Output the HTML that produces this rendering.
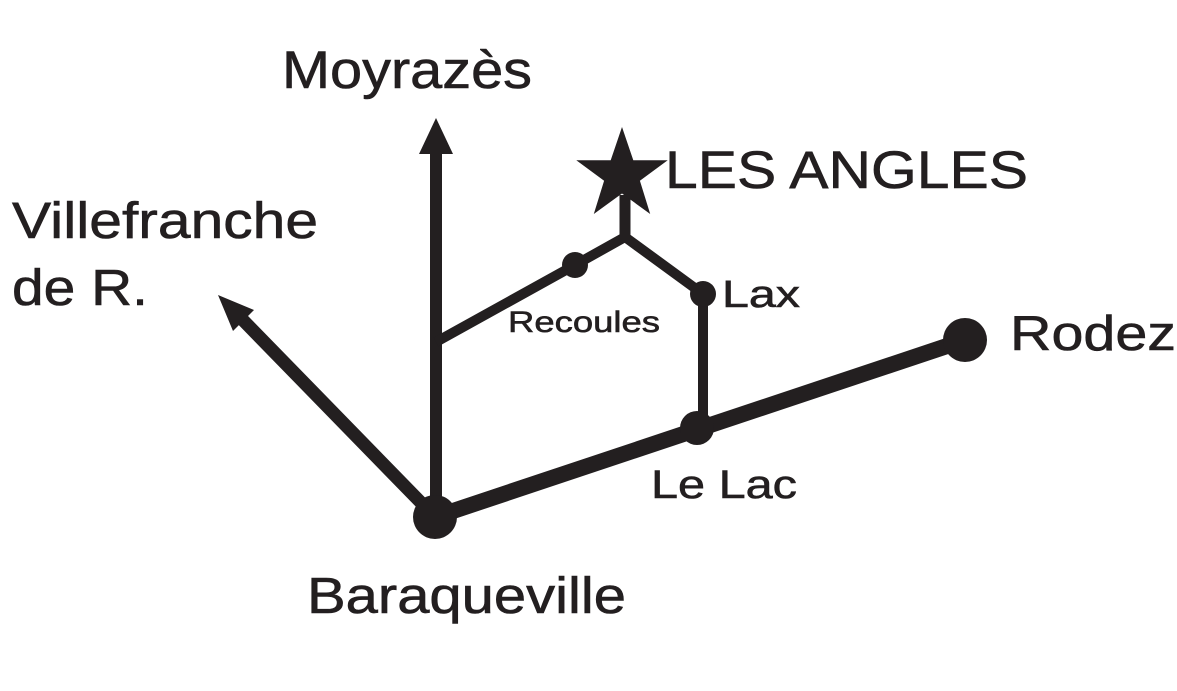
<!DOCTYPE html>
<html><head><style>
html,body{margin:0;padding:0;background:#fff;}
svg text{font-family:"Liberation Sans",Arial,sans-serif;fill:#231f20;stroke:#231f20;stroke-width:0.6;}
</style></head><body>
<svg width="1177" height="686" viewBox="0 0 1177 686" xmlns="http://www.w3.org/2000/svg">
<g stroke="#231f20" fill="none" stroke-linecap="butt">
<line x1="435" y1="517" x2="965" y2="340" stroke-width="16"/>
<line x1="436" y1="517" x2="436" y2="150" stroke-width="12"/>
<line x1="435" y1="517" x2="238" y2="315" stroke-width="13"/>
<polyline points="436,342 575,265 625,237 703,294 703,428" stroke-width="10" stroke-linejoin="miter"/>
<line x1="625" y1="240" x2="625" y2="195" stroke-width="11"/>
</g>
<g fill="#231f20">
<polygon points="436,118 419,154 453,154"/>
<polygon points="218,295 254,310 233,331"/>
<circle cx="435" cy="517" r="22"/>
<circle cx="965" cy="340" r="22"/>
<circle cx="697" cy="428" r="17"/>
<circle cx="575" cy="265" r="13"/>
<circle cx="703" cy="294" r="13"/>
<polygon points="622,127 633.3,160.2 667.7,160.2 639.9,180.8 650.2,214 622,193.5 593.8,214 604.1,180.8 576.3,160.2 610.7,160.2"/>
</g>
<text x="282" y="88" font-size="53" textLength="250" lengthAdjust="spacingAndGlyphs">Moyrazès</text>
<text x="665" y="188" font-size="53" textLength="363" lengthAdjust="spacingAndGlyphs">LES ANGLES</text>
<text x="12" y="238" font-size="51" textLength="306" lengthAdjust="spacingAndGlyphs">Villefranche</text>
<text x="12" y="305" font-size="51" textLength="136" lengthAdjust="spacingAndGlyphs">de R.</text>
<text x="722" y="307" font-size="38" textLength="78" lengthAdjust="spacingAndGlyphs">Lax</text>
<text x="508" y="332" font-size="30" textLength="152" lengthAdjust="spacingAndGlyphs">Recoules</text>
<text x="1010" y="350" font-size="49" textLength="166" lengthAdjust="spacingAndGlyphs">Rodez</text>
<text x="651" y="498" font-size="40" textLength="146" lengthAdjust="spacingAndGlyphs">Le Lac</text>
<text x="307" y="613" font-size="51" textLength="319" lengthAdjust="spacingAndGlyphs">Baraqueville</text>
</svg>
</body></html>
